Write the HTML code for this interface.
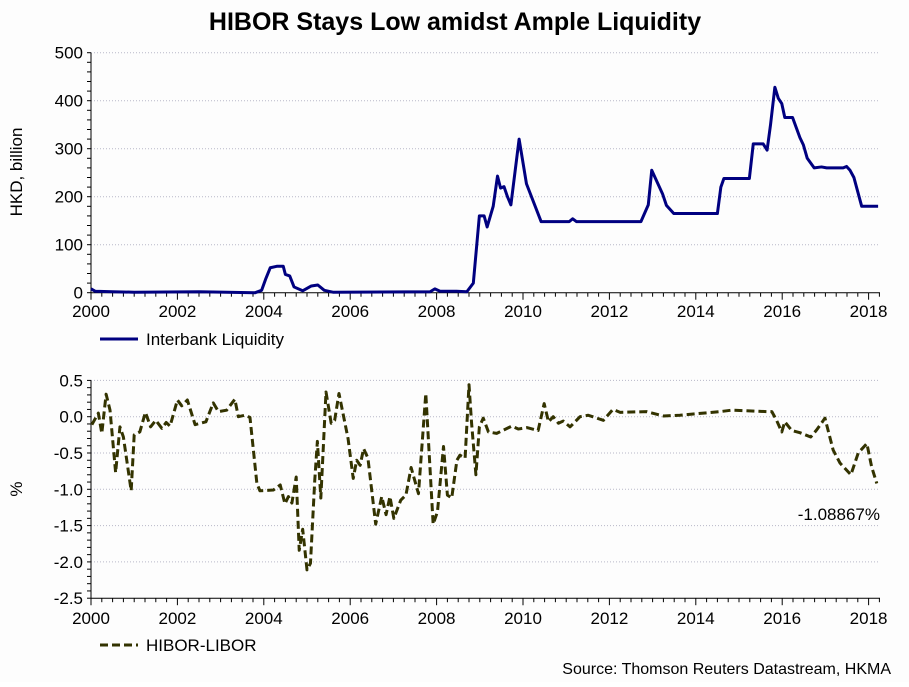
<!DOCTYPE html>
<html><head><meta charset="utf-8"><style>
body{margin:0;background:#fff;}
svg text{font-family:"Liberation Sans",sans-serif;}
</style></head><body>
<svg id="c" width="909" height="682" xmlns="http://www.w3.org/2000/svg">
<rect width="909" height="682" fill="#fdfdfd"/>
<text x="455" y="30" text-anchor="middle" font-size="25" font-weight="bold" fill="#000">HIBOR Stays Low amidst Ample Liquidity</text>
<text transform="translate(22,172) rotate(-90)" text-anchor="middle" font-size="17">HKD, billion</text>
<text transform="translate(22,489) rotate(-90)" text-anchor="middle" font-size="17">%</text>
<g><line x1="100" y1="339" x2="138" y2="339" stroke="#000080" stroke-width="3"/><text x="146" y="345" font-size="17">Interbank Liquidity</text></g>
<g><line x1="100" y1="645" x2="138" y2="645" stroke="#333300" stroke-width="3" stroke-dasharray="8,4"/><text x="146" y="651" font-size="17">HIBOR-LIBOR</text></g>
<text x="880" y="520" text-anchor="end" font-size="17">-1.08867%</text>
<text x="891" y="674" text-anchor="end" font-size="16">Source: Thomson Reuters Datastream, HKMA</text>
</svg>
<script>
const topYears=[2000,2000.1,2000.5,2001,2002.5,2003.8,2003.95,2004.05,2004.15,2004.3,2004.45,2004.5,2004.6,2004.7,2004.9,2005.1,2005.25,2005.4,2005.6,2007.85,2007.96,2008.08,2008.46,2008.7,2008.85,2008.99,2009.1,2009.17,2009.31,2009.41,2009.48,2009.56,2009.64,2009.72,2009.91,2010.08,2010.42,2011.07,2011.15,2011.24,2012.73,2012.9,2012.98,2013.23,2013.32,2013.49,2014.5,2014.58,2014.65,2015.24,2015.33,2015.56,2015.65,2015.73,2015.83,2015.91,2015.99,2016.06,2016.24,2016.41,2016.49,2016.58,2016.74,2016.91,2017.03,2017.41,2017.49,2017.57,2017.66,2017.84,2018.22];
const liquidity=[8,3,2,1,2,0,5,30,52,55,55,38,35,12,4,14,16,5,1,2,8,3,3,2,20,160,160,137,180,243,218,221,200,183,320,227,148,148,154,148,148,183,255,206,182,165,165,220,238,238,310,310,297,350,428,405,394,365,365,323,308,280,260,262,260,260,263,255,240,180,180];
const botYears=[2000.02,2000.17,2000.25,2000.35,2000.44,2000.57,2000.67,2000.75,2000.93,2001.0,2001.13,2001.26,2001.38,2001.5,2001.64,2001.74,2001.83,2002.0,2002.1,2002.23,2002.41,2002.66,2002.83,2002.95,2003.14,2003.33,2003.41,2003.56,2003.68,2003.84,2003.91,2004.22,2004.38,2004.49,2004.57,2004.65,2004.75,2004.82,2004.9,2005.0,2005.08,2005.18,2005.24,2005.32,2005.44,2005.56,2005.64,2005.74,2005.95,2006.07,2006.15,2006.23,2006.31,2006.41,2006.59,2006.73,2006.83,2006.92,2007.01,2007.17,2007.29,2007.41,2007.58,2007.75,2007.92,2008.02,2008.16,2008.25,2008.35,2008.47,2008.54,2008.66,2008.75,2008.81,2008.91,2008.99,2009.08,2009.2,2009.39,2009.74,2009.89,2010.09,2010.35,2010.49,2010.59,2010.7,2010.82,2010.93,2011.09,2011.32,2011.51,2011.86,2012.08,2012.25,2012.86,2013.25,2013.63,2014.56,2014.83,2015.64,2015.76,2015.87,2015.99,2016.06,2016.22,2016.41,2016.66,2016.8,2016.99,2017.18,2017.34,2017.59,2017.76,2017.96,2018.07,2018.19];
const spread=[-0.11,0.05,-0.23,0.31,0.09,-0.77,-0.14,-0.28,-1.02,-0.25,-0.21,0.06,-0.14,-0.05,-0.16,-0.08,-0.13,0.23,0.15,0.23,-0.11,-0.07,0.19,0.07,0.09,0.24,0.0,0.02,-0.01,-0.92,-1.02,-1.01,-0.94,-1.2,-1.1,-1.19,-0.83,-1.84,-1.55,-2.11,-2.02,-0.87,-0.34,-1.12,0.34,-0.09,-0.05,0.32,-0.3,-0.85,-0.6,-0.67,-0.44,-0.57,-1.48,-1.1,-1.35,-1.1,-1.4,-1.15,-1.08,-0.7,-1.06,0.32,-1.48,-1.31,-0.41,-1.08,-1.12,-0.6,-0.53,-0.57,0.44,-0.09,-0.8,-0.14,-0.02,-0.21,-0.23,-0.13,-0.17,-0.15,-0.19,0.18,-0.07,0,-0.09,-0.06,-0.14,0,0.02,-0.05,0.1,0.06,0.07,0.01,0.02,0.07,0.09,0.07,0.07,-0.05,-0.21,-0.07,-0.19,-0.22,-0.28,-0.18,-0.02,-0.46,-0.64,-0.8,-0.5,-0.37,-0.69,-0.92];
const topTicks=[0,100,200,300,400,500];
const botTicks=[0.5,0.0,-0.5,-1.0,-1.5,-2.0,-2.5];
const xTicks=[2000,2002,2004,2006,2008,2010,2012,2014,2016,2018];

const svg=document.getElementById('c');const NS='http://www.w3.org/2000/svg';
const X0=91,XR=880;
const x=t=>X0+(t-2000)*43.2;
const yTop=v=>292.7-v*0.48;
const yBot=v=>416.7-v*72.6;
function mk(tag,attrs,parent){const e=document.createElementNS(NS,tag);for(const k in attrs)e.setAttribute(k,attrs[k]);(parent||svg).appendChild(e);return e;}
function panel(name,yf,ticks,minorStep,vmin,vmax,fmt,labelY){
  const g=mk('g',{});
  
  
  ticks.forEach(v=>{
    if(v!==vmin) mk('line',{x1:X0,x2:XR,y1:yf(v),y2:yf(v),stroke:'#b8b8c8','stroke-dasharray':'1,2','stroke-width':1},g);
    const t=mk('text',{x:X0-8,y:yf(v)+6,'text-anchor':'end','font-size':17},g);
    
    
    t.textContent=fmt(v);
  });
  for(let v=vmin;v<=vmax+1e-9;v+=minorStep){mk('line',{x1:X0-4,x2:X0,y1:yf(v),y2:yf(v),stroke:'#000'},g);}
  mk('line',{x1:X0,x2:X0,y1:yf(vmax),y2:yf(vmin),stroke:'#000'},g);
  const by=yf(vmin);
  mk('line',{x1:X0,x2:XR,y1:by,y2:by,stroke:'#000'},g);
  for(let t=2000;t<=2018.26;t+=0.25){mk('line',{x1:x(t),x2:x(t),y1:by,y2:by+(Math.abs(t%2)<1e-6?7:4),stroke:'#000'},g);}
  xTicks.forEach(t=>{
    const l=mk('text',{x:x(t),y:labelY,'text-anchor':'middle','font-size':17},g);
    
    
    l.textContent=t;
  });
}
panel('top',yTop,topTicks,20,0,500,v=>String(v),317);
panel('bottom',yBot,botTicks,0.1,-2.5,0.5,v=>v.toFixed(1),624);
const p1=mk('polyline',{points:topYears.map((t,i)=>x(t)+','+yTop(liquidity[i])).join(' '),fill:'none',stroke:'#000080','stroke-width':3,'stroke-linejoin':'round'});


const p2=mk('polyline',{points:botYears.map((t,i)=>x(t)+','+yBot(spread[i])).join(' '),fill:'none',stroke:'#333300','stroke-width':3,'stroke-dasharray':'8,4','stroke-linejoin':'round'});


</script>
</body></html>
